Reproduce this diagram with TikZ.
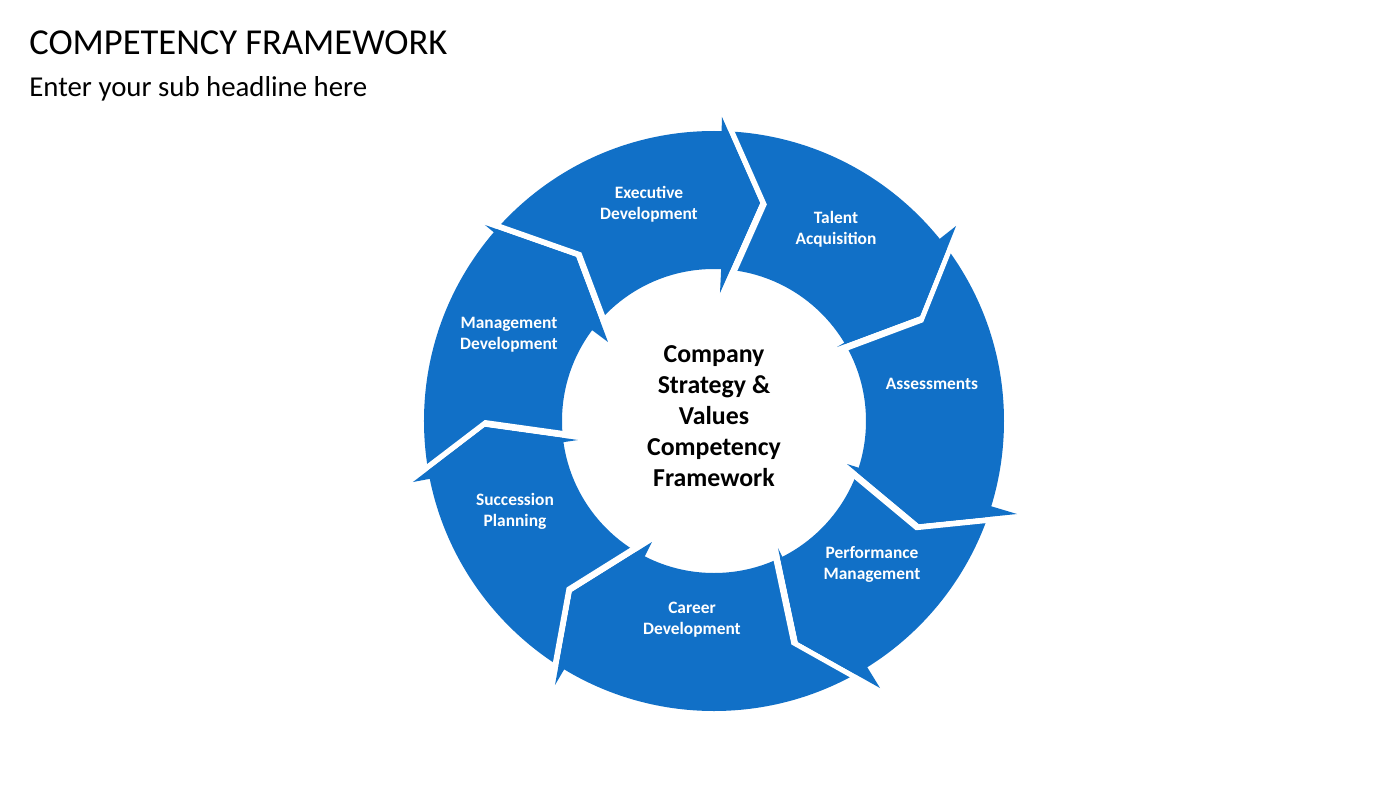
\documentclass[tikz,border=0pt]{standalone}
\usepackage{fontspec}
\setmainfont{Carlito}
\usetikzlibrary{calc}
\definecolor{ringblue}{RGB}{17,112,199}

\begin{document}
\begin{tikzpicture}[x=0.02cm, y=0.02cm,
    seglabel/.style={align=center, text=white, font=\bfseries\fontsize{9.9}{12}\selectfont, inner sep=0pt},
    centerlabel/.style={align=center, text=black, font=\bfseries\fontsize{14.7}{17.6}\selectfont, inner sep=0pt}]
			\useasboundingbox (-714,-367) rectangle (686,421);
			\fill[white] (-714,-367) rectangle (686,421);

			% Headline
			\node[anchor=base west, inner sep=0pt, font=\fontsize{20.8}{25}\selectfont] (title) at (-685,366) {COMPETENCY FRAMEWORK};
			\node[anchor=base west, inner sep=0pt, font=\fontsize{16.4}{20}\selectfont] (subtitle) at (-685,324) {Enter your sub headline here};

			% Ring
			\fill[ringblue, even odd rule] (0,0) circle (290) (0,0) circle (152);

			% Arrow heads: outer tip, middle tip, inner tip
			\coordinate (o1) at (8,304);     \coordinate (m1) at (46,218);    \coordinate (i1) at (6,128);
			\coordinate (o2) at (242,195);   \coordinate (m2) at (206,105);   \coordinate (i2) at (123,74);
			\coordinate (o3) at (303,-93);   \coordinate (m3) at (205,-103);  \coordinate (i3) at (133,-43);
			\coordinate (o4) at (166,-267);  \coordinate (m4) at (84,-221);   \coordinate (i4) at (64,-127);
			\coordinate (o5) at (-159,-264); \coordinate (m5) at (-142,-171); \coordinate (i5) at (-62,-121);
			\coordinate (o6) at (-301,-61);  \coordinate (m6) at (-229,-6);   \coordinate (i6) at (-136,-19);
			\coordinate (o7) at (-229,196);  \coordinate (m7) at (-138,164);  \coordinate (i7) at (-106,79);

			% Gaps between the segments
			\fill[white] (o1) -- (m1) -- (i1) -- ($(i1)+(-11.9:7)$) -- ($(m1)+(-11.9:7)$) -- ($(o1)+(-11.9:7)$) -- cycle;
			\fill[white] (o2) -- (m2) -- (i2) -- ($(i2)+(-63:7)$) -- ($(m2)+(-63:7)$) -- ($(o2)+(-63:7)$) -- cycle;
			\fill[white] (o3) -- (m3) -- (i3) -- ($(i3)+(-116.7:7)$) -- ($(m3)+(-116.7:7)$) -- ($(o3)+(-116.7:7)$) -- cycle;
			\fill[white] (o4) -- (m4) -- (i4) -- ($(i4)+(-159.2:7)$) -- ($(m4)+(-159.2:7)$) -- ($(o4)+(-159.2:7)$) -- cycle;
			\fill[white] (o5) -- (m5) -- (i5) -- ($(i5)+(140.3:7)$) -- ($(m5)+(140.3:7)$) -- ($(o5)+(140.3:7)$) -- cycle;
			\fill[white] (o6) -- (m6) -- (i6) -- ($(i6)+(91.5:7)$) -- ($(m6)+(91.5:7)$) -- ($(o6)+(91.5:7)$) -- cycle;
			\fill[white] (o7) -- (m7) -- (i7) -- ($(i7)+(40.1:7)$) -- ($(m7)+(40.1:7)$) -- ($(o7)+(40.1:7)$) -- cycle;

			% Spikes of the arrow heads
			\fill[ringblue] (88.5:290) -- (o1) -- (m1) -- (i1) -- (87.3:152) -- cycle;
			\fill[ringblue] (38.9:290) -- (o2) -- (m2) -- (i2) -- (31.0:152) -- cycle;
			\fill[ringblue] (-17.1:290) -- (o3) -- (m3) -- (i3) -- (-17.9:152) -- cycle;
			\fill[ringblue] (-58.1:290) -- (o4) -- (m4) -- (i4) -- (-63.3:152) -- cycle;
			\fill[ringblue] (238.9:290) -- (o5) -- (m5) -- (i5) -- (242.9:152) -- cycle;
			\fill[ringblue] (191.5:290) -- (o6) -- (m6) -- (i6) -- (188.0:152) -- cycle;
			\fill[ringblue] (139.4:290) -- (o7) -- (m7) -- (i7) -- (143.3:152) -- cycle;

			% Segment labels
			\node[seglabel] (executive) at (-65,217) {Executive\\Development};
			\node[seglabel] (talent) at (122,192) {Talent\\Acquisition};
			\node[seglabel] (assessments) at (218,37) {Assessments};
			\node[seglabel] (performance) at (158,-143) {Performance\\Management};
			\node[seglabel] (career) at (-22,-199) {Career\\Development};
			\node[seglabel] (succession) at (-199,-90) {Succession\\Planning};
			\node[seglabel] (management) at (-205,86) {Management\\Development};

			% Centre
			\node[centerlabel] (strategy) at (0,5) {Company\\Strategy \&\\Values\\Competency\\Framework};
		\end{tikzpicture}
\end{document}
